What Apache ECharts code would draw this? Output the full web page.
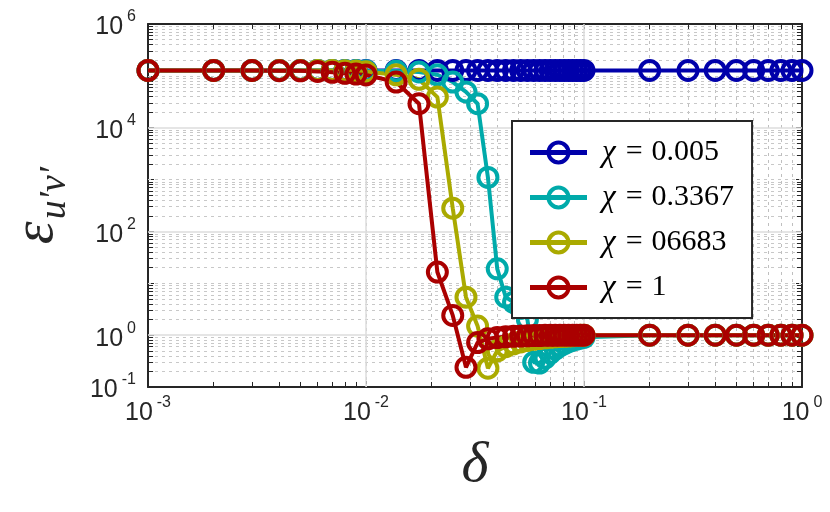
<!DOCTYPE html>
<html><head><meta charset="utf-8">
<script src="https://cdn.jsdelivr.net/npm/echarts@6/dist/echarts.min.js"></script>
<style>html,body{margin:0;padding:0;background:#fff}#c{width:830px;height:512px}</style>
</head><body><div id="c"></div>
<script>
// ---- data ----
const deltaLow  = [0.001,0.002,0.003,0.004,0.005,0.006,0.007,0.008,0.009];
const deltaMid  = [0.01,0.01375,0.0175,0.02125,0.025,0.02875,0.0325,0.03625,0.04,0.04375,0.0475,0.05125,0.055,0.05875,0.0625,0.06625,0.07,0.07375,0.0775,0.08125,0.085,0.08875,0.0925,0.09625,0.1];
const deltaHigh = [0.2,0.3,0.4,0.5,0.6,0.7,0.8,0.9,1.0];
const delta = deltaLow.concat(deltaMid, deltaHigh);

const seriesNames = ['0.005','0.3367','06683','1'];
const seriesColors = ['#0000AA','#00AAAA','#AAAA00','#AA0000'];

const chi0005 = [
  1.27e5,1.27e5,1.27e5,1.27e5,1.27e5,1.27e5,1.27e5,1.27e5,1.27e5,
  1.27e5,1.27e5,1.27e5,1.27e5,1.27e5,1.27e5,1.27e5,1.27e5,1.27e5,1.27e5,1.27e5,1.27e5,1.27e5,1.27e5,1.27e5,1.27e5,1.27e5,1.27e5,1.27e5,1.27e5,1.27e5,1.27e5,1.27e5,1.27e5,1.27e5,
  1.27e5,1.27e5,1.27e5,1.27e5,1.27e5,1.27e5,1.27e5,1.27e5,1.27e5];
const chi03367 = [
  1.27e5,1.27e5,1.27e5,1.27e5,1.27e5,1.27e5,1.27e5,1.27e5,1.27e5,
  1.26e5,1.24e5,1.19e5,1.05e5,7.6e4,4.9e4,2.9e4,1.1e3,19,5.4,4.3,3.3,2.0,0.30,0.29,0.36,0.45,0.54,0.62,0.69,0.75,0.80,0.84,0.88,0.91,
  1.0,1.0,1.0,1.0,1.0,1.0,1.0,1.0,1.0];
const chi06683 = [
  1.27e5,1.27e5,1.27e5,1.27e5,1.27e5,1.27e5,1.27e5,1.26e5,1.24e5,
  1.2e5,1.05e5,8.6e4,3.9e4,280,5.4,1.5,0.23,0.5,0.6,0.68,0.74,0.79,0.83,0.86,0.89,0.91,0.93,0.94,0.95,0.96,0.97,0.98,0.99,1.0,
  1.0,1.0,1.0,1.0,1.0,1.0,1.0,1.0,1.0];
const chi1 = [
  1.27e5,1.27e5,1.27e5,1.26e5,1.25e5,1.22e5,1.17e5,1.12e5,1.08e5,
  1.04e5,7.6e4,2.9e4,16.5,2.4,0.24,0.72,0.85,0.9,0.93,0.95,0.96,0.97,0.98,0.98,0.99,0.99,0.99,1.0,1.0,1.0,1.0,1.0,1.0,1.0,
  1.0,1.0,1.0,1.0,1.0,1.0,1.0,1.0,1.0];
const seriesValues = [chi0005, chi03367, chi06683, chi1];

const xMajorGrid = [0.01, 0.1];
const yMajorGrid = [1, 100, 1e4];
const yLabelExponents = [-1, 0, 2, 4, 6];

// ---- helpers ----
const X_MIN = 0.001, X_MAX = 1, Y_MIN = 0.1, Y_MAX = 1e6;
const xMinor = [], yMinor = [];
for (let k = -3; k < 0; k++) for (let m = 2; m <= 9; m++) xMinor.push(+(m * Math.pow(10, k)).toPrecision(6));
for (let k = -1; k < 6; k++) for (let m = 2; m <= 9; m++) yMinor.push(+(m * Math.pow(10, k)).toPrecision(6));
const yOddDecades = [10, 1000, 1e5];

const vMinorStyle = {type: [3, 4], color: '#bfbfbf', width: 1};
const hMinorStyle = {type: [3, 4], color: '#c8c8c8', width: 1};
const majorStyle = {type: 'solid', color: '#dcdcdc', width: 1.5};
const gridLines = [];
xMinor.forEach(v => gridLines.push({xAxis: v, lineStyle: vMinorStyle}));
yMinor.concat(yOddDecades).forEach(v => gridLines.push({yAxis: v, lineStyle: hMinorStyle}));
xMajorGrid.forEach(v => gridLines.push({xAxis: v, lineStyle: majorStyle}));
yMajorGrid.forEach(v => gridLines.push({yAxis: v, lineStyle: majorStyle}));

const tx = 1.055, ty = 1.25; // minor tick lengths (multiplicative)
const tickLines = [];
xMinor.forEach(v => {
  tickLines.push([{coord: [v, Y_MIN]}, {coord: [v, Y_MIN * ty]}]);
  tickLines.push([{coord: [v, Y_MAX]}, {coord: [v, Y_MAX / ty]}]);
});
yMinor.forEach(v => {
  tickLines.push([{coord: [X_MIN, v]}, {coord: [X_MIN * tx, v]}]);
  tickLines.push([{coord: [X_MAX, v]}, {coord: [X_MAX / tx, v]}]);
});

const tickRich = {
  b: {fontSize: 25, lineHeight: 30, verticalAlign: 'top', padding: [6, 0, 0, 0], color: '#262626', fontFamily: 'Liberation Sans'},
  e: {fontSize: 16, lineHeight: 18, verticalAlign: 'top', padding: [0, 0, 0, 4], color: '#262626', fontFamily: 'Liberation Sans'}
};
function tickFmt(v, isY) {
  const e = Math.round(Math.log10(v));
  if (isY && yLabelExponents.indexOf(e) < 0) return '';
  return '{b|10}{e|' + e + '}';
}

const axisLineStyle = {color: '#262626', width: 2};

const series = seriesValues.map((ys, i) => ({
  name: seriesNames[i], type: 'line',
  data: delta.map((x, j) => [x, ys[j]]),
  symbol: 'circle', symbolSize: 19, showAllSymbol: true, clip: false,
  lineStyle: {color: seriesColors[i], width: 4, type: 'solid'},
  itemStyle: {color: 'rgba(255,255,255,0)', borderColor: seriesColors[i], borderWidth: 4, borderType: 'solid'},
  emphasis: {disabled: true}, z: 5
}));
series.unshift({
  name: '_grid', type: 'line', data: [], z: 1, silent: true,
  markLine: {z: 1, silent: true, symbol: ['none', 'none'], label: {show: false}, animation: false, data: gridLines}
});
series.push({
  name: '_ticks', type: 'line', data: [], z: 3, silent: true,
  markLine: {z: 3, silent: true, symbol: ['none', 'none'], label: {show: false}, animation: false,
    lineStyle: {type: 'solid', color: '#262626', width: 1}, data: tickLines}
});

// legend swatch: a bar with a ring on it (line + hollow circle marker)
const legendIcon = 'path://M0 9.6 H57 V14.4 H0 Z ' +
  'M16.5 12 A12 12 0 1 1 40.5 12 A12 12 0 1 1 16.5 12 Z ' +
  'M20.6 12 A7.9 7.9 0 1 0 36.4 12 A7.9 7.9 0 1 0 20.6 12 Z';
const legendData = seriesNames.map((n, i) => ({
  name: n, icon: legendIcon,
  itemStyle: {color: seriesColors[i], borderWidth: 0, opacity: 1}
}));

const option = {
  animation: false,
  backgroundColor: '#ffffff',
  grid: {left: 145, right: 28, top: 24, bottom: 125},
  xAxis: [{
    type: 'log', logBase: 10, min: X_MIN, max: X_MAX, position: 'bottom',
    axisLine: {lineStyle: axisLineStyle},
    axisTick: {inside: true, length: 6, lineStyle: {color: '#262626', width: 1}},
    splitLine: {show: false},
    axisLabel: {margin: 8, formatter: v => tickFmt(v, false), rich: tickRich},
    name: 'δ', nameLocation: 'middle', nameGap: 50,
    nameTextStyle: {fontFamily: 'Liberation Serif', fontStyle: 'italic', fontSize: 58, color: '#262626'}
  }, {
    type: 'log', logBase: 10, min: X_MIN, max: X_MAX, position: 'top',
    axisLine: {lineStyle: axisLineStyle},
    axisTick: {inside: true, length: 6, lineStyle: {color: '#262626', width: 1}},
    splitLine: {show: false}, axisLabel: {show: false}
  }],
  yAxis: [{
    type: 'log', logBase: 10, min: Y_MIN, max: Y_MAX, position: 'left',
    axisLine: {lineStyle: axisLineStyle},
    axisTick: {inside: true, length: 6, lineStyle: {color: '#262626', width: 1}},
    splitLine: {show: false},
    axisLabel: {margin: 12, formatter: v => tickFmt(v, true), rich: tickRich},
    name: '{e|ε}{s|u′v′}', nameLocation: 'middle', nameGap: 80, nameRotate: 90,
    nameTextStyle: {rich: {
      e: {fontFamily: 'Liberation Serif', fontStyle: 'italic', fontSize: 58, lineHeight: 60, verticalAlign: 'top', color: '#262626'},
      s: {fontFamily: 'Liberation Serif', fontStyle: 'italic', fontSize: 38, lineHeight: 40, verticalAlign: 'top', padding: [28, 0, 0, 2], color: '#262626'}
    }}
  }, {
    type: 'log', logBase: 10, min: Y_MIN, max: Y_MAX, position: 'right',
    axisLine: {lineStyle: axisLineStyle},
    axisTick: {inside: true, length: 6, lineStyle: {color: '#262626', width: 1}},
    splitLine: {show: false}, axisLabel: {show: false}
  }],
  legend: {
    z: 20,
    data: legendData, orient: 'vertical', left: 512, top: 121,
    itemWidth: 57, itemHeight: 24, itemGap: 14,
    padding: [16, 18, 15, 18],
    backgroundColor: '#ffffff', borderColor: '#262626', borderWidth: 2, borderRadius: 0,
    selectedMode: false,
    formatter: n => '{i|χ}{q|=}{t|' + n + '}',
    textStyle: {fontFamily: 'Liberation Serif', fontSize: 30, color: '#000', padding: [0, 0, 0, 10],
      rich: {
        i: {fontFamily: 'Liberation Serif', fontStyle: 'italic', fontSize: 31, color: '#000'},
        q: {fontFamily: 'Liberation Serif', fontSize: 30, color: '#000', padding: [0, 9, 0, 10]},
        t: {fontFamily: 'Liberation Serif', fontSize: 30, color: '#000'}
      }}
  },
  series: series
};
const chart = echarts.init(document.getElementById('c'), null, {renderer: 'canvas'});
chart.setOption(option);
</script></body></html>
